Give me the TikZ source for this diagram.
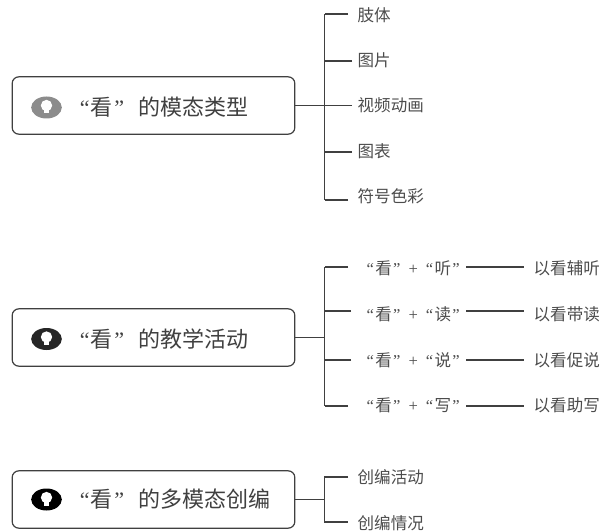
\documentclass[tikz,border=0pt]{standalone}
\usepackage{fontspec}
\setmainfont{Noto Sans CJK SC}
\newfontfamily\quotefont{Liberation Serif}
\newcommand{\lqt}{{\quotefont “}\kern1pt}
\newcommand{\rqt}{\kern1pt{\quotefont ”}}
\usetikzlibrary{shapes.geometric,positioning}

\begin{document}
\begin{tikzpicture}[
			x=0.75pt,
			y=-0.75pt,
			node distance=12.5pt,
			line width=1.05pt,
			topic/.style={rectangle, draw=black!75, line width=0.9pt, rounded corners=5pt, minimum width=212pt, minimum height=43pt, inner sep=0pt},
			topictext/.style={font=\fontsize{16.5}{20}\selectfont, text=black!75, inner sep=0pt},
			leaf/.style={font=\fontsize{12.4}{15}\selectfont, text=black!70, anchor=west, inner sep=0pt},
			bulb/.style={ellipse, minimum width=23pt, minimum height=16.5pt, inner sep=0pt},
			hole/.style={circle, fill=white, minimum size=8.5pt, inner sep=0pt, yshift=1.5pt},
			base/.style={rectangle, fill=white, minimum width=3.5pt, minimum height=4pt, inner sep=0pt, yshift=-2.5pt},
			wire/.style={draw=black!75}
		]
		\useasboundingbox (0,0) rectangle (609,531);

		% first group
		\node[topic] (TypeBox) at (153.5,105.5) {};
		\node[bulb, fill=black!45] (TypeBulb) at (46.5,107.5) {};
		\node[hole] at (TypeBulb) {};
		\node[base] at (TypeBulb) {};
		\node[topictext, right=of TypeBulb] (TypeText) {\lqt 看\rqt\hspace{11pt}的模态类型};
		\coordinate (TypeFork) at (324.5,105.5);
		\foreach \name/\word/\ypos/\ytext/\xend in {Body/肢体/14/15/348, Picture/图片/61/60.5/352, Video/视频动画/105.5/105/352, Chart/图表/152/151/352, Symbol/符号色彩/200/196/348} {
			\node[leaf] (\name) at (357,\ytext) {\word};
			\coordinate (\name End) at (\xend,\ypos);
			\draw[wire] (\name End) -- (TypeFork |- \name End);
		}
		\draw[wire] (TypeBox.east) -- (TypeFork);
		\draw[wire] (TypeFork |- BodyEnd) -- (TypeFork |- SymbolEnd);

		% second group
		\node[topic] (TeachBox) at (153.5,337.5) {};
		\node[bulb, fill=black!85] (TeachBulb) at (46.5,339) {};
		\node[hole] at (TeachBulb) {};
		\node[base] at (TeachBulb) {};
		\node[topictext, right=of TeachBulb] (TeachText) {\lqt 看\rqt\hspace{11pt}的教学活动};
		\coordinate (TeachFork) at (324.5,337.5);
		\foreach \name/\sense/\goal/\ypos/\ytext/\xend in {Listen/听/以看辅听/267/268/348, Read/读/以看带读/311/314/351, Speak/说/以看促说/360/360/351, Write/写/以看助写/406/405/348} {
			\node[leaf] (\name) at (366,\ytext) {\lqt 看\rqt\hspace{6pt}{\quotefont +}\hspace{6pt}\lqt\sense\rqt};
			\node[leaf] (\name Goal) at (533,\ytext) {\goal};
			\coordinate (\name End) at (\xend,\ypos);
			\coordinate (\name From) at (466,\ypos);
			\coordinate (\name To) at (524,\ypos);
			\draw[wire] (\name End) -- (TeachFork |- \name End);
			\draw[wire] (\name From) -- (\name To);
		}
		\draw[wire] (TeachBox.east) -- (TeachFork);
		\draw[wire] (TeachFork |- ListenEnd) -- (TeachFork |- WriteEnd);

		% third group
		\node[topic] (MakeBox) at (153.5,499.5) {};
		\node[bulb, fill=black] (MakeBulb) at (46.5,499.5) {};
		\node[hole] at (MakeBulb) {};
		\node[base] at (MakeBulb) {};
		\node[topictext, right=of MakeBulb] (MakeText) {\lqt 看\rqt\hspace{11pt}的多模态创编};
		\coordinate (MakeFork) at (324.5,499.5);
		\node[leaf] (Activity) at (357,477) {创编活动};
		\node[leaf] (Situation) at (357,523) {创编情况};
		\coordinate (ActivityEnd) at (348,477);
		\coordinate (SituationEnd) at (348,522);
		\draw[wire] (MakeBox.east) -- (MakeFork);
		\draw[wire] (ActivityEnd) -| (MakeFork |- SituationEnd) -- (SituationEnd);
	\end{tikzpicture}
\end{document}
